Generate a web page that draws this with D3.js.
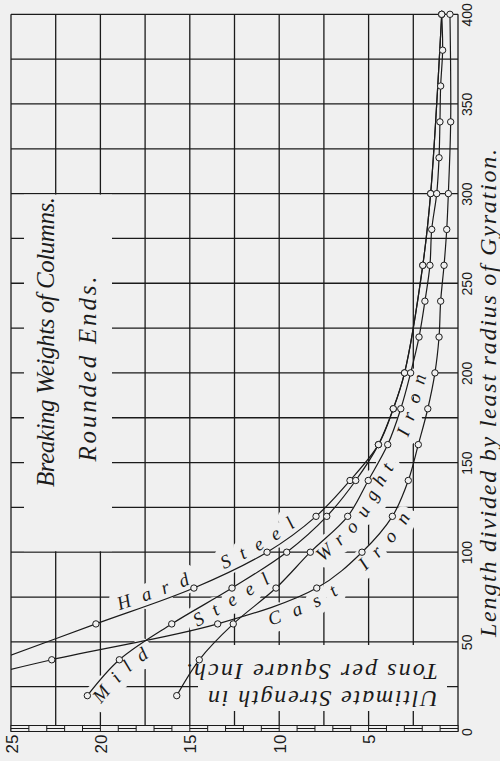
<!DOCTYPE html>
<meta charset="utf-8">
<script src="https://d3js.org/d3.v7.min.js"></script>
<style>
body { margin: 0; background: #f0f0f0; }
svg { display: block; }
</style>
<body>
<svg width="500" height="761"></svg>
<script>
  // length / least radius of gyration
  var lengthRatio = [20, 40, 60, 80, 100, 120, 140, 160, 180, 200, 220, 240, 260, 280, 300, 320, 340, 360, 380, 400];
  // ultimate strength, tons per square inch (null = no point plotted)
  var hardSteel   = [null, 25.7, 20.25, 14.77, 10.68, 7.94, 6.04, 4.45, 3.62, 2.99, null, null, 1.97, null, 1.53, null, null, null, null, 0.91];
  var mildSteel   = [20.73, 18.94, 16.01, 12.64, 9.58, 7.34, 5.72, 4.45, 3.62, 2.99, null, null, 1.97, null, 1.53, null, null, null, null, 0.91];
  var wroughtIron = [15.73, 14.47, 12.57, 10.18, 8.26, 6.17, 5.02, 3.93, 3.20, 2.65, 2.18, 1.85, 1.57, 1.47, 1.19, 1.06, 1.01, 0.97, 0.86, 0.91];
  var castIron    = [31.0, 22.72, 13.44, 7.90, 5.37, 3.67, 2.78, 2.22, 1.69, 1.29, 1.06, 0.97, 0.78, 0.63, 0.54, null, 0.41, null, null, 0.45];

  var strengthTicks = [25, 20, 15, 10, 5];
  var lengthTicks = [0, 50, 100, 150, 200, 250, 300, 350, 400];

  var bg = '#f0f0f0', ink = '#1b1b1b';
  var serif = '"Liberation Serif", "DejaVu Serif", serif';
  var sans = '"Liberation Sans", "DejaVu Sans", sans-serif';

  var svg = d3.select('svg');
  var x = d3.scaleLinear().domain([25, 0]).range([11, 458]);
  var y = d3.scaleLinear().domain([0, 400]).range([731.5, 14.3]);

  var series = [hardSteel, mildSteel, wroughtIron, castIron].map(function(vals){
    return lengthRatio.map(function(L, i){ return {L: L, s: vals[i]}; })
      .filter(function(d){ return d.s != null; });
  });

  svg.append('rect').attr('width', 500).attr('height', 761).attr('fill', bg);

  var line = d3.line()
    .x(function(d){ return x(d.s); })
    .y(function(d){ return y(d.L); })
    .curve(d3.curveCatmullRom.alpha(0.5));

  var defs = svg.append('defs');
  defs.append('clipPath').attr('id', 'plot').append('rect')
    .attr('x', x(25)).attr('y', y(400) - 5).attr('width', x(0) - x(25) + 5).attr('height', y(0) - y(400) + 5);
  var guides = defs.selectAll('path.guide').data(series).enter().append('path')
    .attr('d', line).nodes();

  /* ----------- curve labels, glyph by glyph ----------- */
  var labels = [
    {series: 0, text: 'Hard', from: 65, dy: -5, gap: 12},
    {series: 0, text: 'Steel', from: 88, dy: -5, gap: 12},
    {series: 1, text: 'Mild', from: 21, dy: 16, gap: 12},
    {series: 1, text: 'Steel', from: 66, dy: 16, gap: 12},
    {series: 3, text: 'Cast', from: 68, dy: 17, gap: 12},
    {series: 3, text: 'Iron', from: 96, dy: 16, gap: 11},
    {series: 2, text: 'Wrought', from: 101, dy: 16, gap: 8},
    {series: 2, text: 'Iron', from: 167, dy: 16, gap: 10}
  ];
  var labelSize = 19;

  function offsetAt(node, L){
    var target = y(L), lo = 0, hi = node.getTotalLength();
    for (var k = 0; k < 40; k++) {
      var mid = (lo + hi) / 2;
      if (node.getPointAtLength(mid).y > target) lo = mid; else hi = mid;
    }
    return lo;
  }

  var probe = svg.append('text').attr('font-family', serif).attr('font-style', 'italic')
    .attr('font-size', labelSize);
  labels.forEach(function(d){
    var node = guides[d.series], pos = offsetAt(node, d.from);
    d.xs = []; d.ys = []; d.rs = [];
    d.text.split('').forEach(function(c){
      probe.text(c);
      var w = probe.node().getComputedTextLength();
      var mid = pos + w / 2;
      var p = node.getPointAtLength(mid),
          a = node.getPointAtLength(mid - 1), b = node.getPointAtLength(mid + 1);
      var tx = b.x - a.x, ty = b.y - a.y, n = Math.hypot(tx, ty);
      tx /= n; ty /= n;
      d.xs.push((p.x - tx * w / 2 - ty * d.dy).toFixed(2));
      d.ys.push((p.y - ty * w / 2 + tx * d.dy).toFixed(2));
      d.rs.push((Math.atan2(ty, tx) * 180 / Math.PI).toFixed(2));
      pos += w + d.gap;
    });
  });
  probe.remove();

  function labelText(sel){
    return sel.attr('x', function(d){ return d.xs.join(' '); })
      .attr('y', function(d){ return d.ys.join(' '); })
      .attr('rotate', function(d){ return d.rs.join(' '); })
      .attr('font-family', serif).attr('font-style', 'italic').attr('font-size', labelSize)
      .text(function(d){ return d.text; });
  }

  // grid is cut away around the labels and the title boxes
  var mask = defs.append('mask').attr('id', 'gridMask').attr('maskUnits', 'userSpaceOnUse')
    .attr('x', 0).attr('y', 0).attr('width', 500).attr('height', 761);
  mask.append('rect').attr('width', 500).attr('height', 761).attr('fill', '#fff');
  mask.append('rect').attr('x', 24).attr('y', y(300) + 1).attr('width', 88)
    .attr('height', y(100) - y(300) - 2).attr('fill', '#000');
  mask.append('rect').attr('x', 198).attr('y', 645).attr('width', 249).attr('height', 66).attr('fill', '#000');
  labelText(mask.selectAll('text').data(labels).enter().append('text'))
    .attr('fill', '#000').attr('stroke', '#000').attr('stroke-width', 16).attr('stroke-linejoin', 'round');

  /* ----------- GRID ----------- */
  var grid = svg.append('g').attr('stroke', ink).attr('stroke-width', 1.3).attr('mask', 'url(#gridMask)');
  grid.selectAll('line.v').data(d3.range(0, 25.01, 2.5)).enter().append('line')
    .attr('x1', function(d){ return x(d); }).attr('x2', function(d){ return x(d); })
    .attr('y1', y(400)).attr('y2', y(0));
  grid.selectAll('line.h').data(d3.range(25, 401, 25)).enter().append('line')
    .attr('x1', x(25)).attr('x2', x(0))
    .attr('y1', function(d){ return y(d); }).attr('y2', function(d){ return y(d); });

  /* ----------- scale bar ----------- */
  var bar = svg.append('g').attr('stroke', ink).attr('stroke-width', 1);
  bar.append('rect').attr('x', x(25)).attr('y', 725.5).attr('width', x(0) - x(25)).attr('height', 6)
    .attr('fill', bg);
  bar.selectAll('line.mid').data(d3.range(0, 25, 2)).enter().append('line')
    .attr('x1', function(d){ return x(d); }).attr('x2', function(d){ return x(d + 1); })
    .attr('y1', 728.5).attr('y2', 728.5);
  bar.selectAll('line.sep').data(d3.range(1, 25)).enter().append('line')
    .attr('x1', function(d){ return x(d); }).attr('x2', function(d){ return x(d); })
    .attr('y1', 725.5).attr('y2', 731.5);

  /* ----------- axes ----------- */
  var right = svg.append('g').attr('transform', 'translate(' + x(0) + ',0)')
    .call(d3.axisRight(y).tickValues(lengthTicks).tickSize(0));
  right.select('.domain').remove();
  right.selectAll('text')
    .attr('x', 0).attr('dy', 0).attr('text-anchor', 'middle')
    .attr('transform', 'translate(14,0) rotate(-90)')
    .attr('font-family', sans).attr('font-size', 14).attr('fill', ink);

  var bottom = svg.append('g').attr('transform', 'translate(0,' + y(0) + ')')
    .call(d3.axisBottom(x).tickValues(strengthTicks).tickSize(0));
  bottom.select('.domain').remove();
  bottom.selectAll('text')
    .attr('y', 0).attr('x', 0).attr('dy', '0.36em').attr('text-anchor', 'end')
    .attr('transform', 'translate(0,3) rotate(-90)')
    .attr('font-family', sans).attr('font-size', 17).attr('fill', ink);

  /* ----------- curves ----------- */
  var plot = svg.append('g').attr('clip-path', 'url(#plot)');
  plot.selectAll('path.curve').data(series).enter().append('path')
    .attr('fill', 'none').attr('stroke', ink).attr('stroke-width', 1.2)
    .attr('d', line);
  plot.selectAll('g.pts').data(series).enter().append('g')
    .selectAll('circle').data(function(d){ return d; }).enter().append('circle')
    .attr('cx', function(d){ return x(d.s); }).attr('cy', function(d){ return y(d.L); })
    .attr('r', 3.2).attr('fill', bg).attr('stroke', ink).attr('stroke-width', 1);

  labelText(svg.append('g').selectAll('text').data(labels).enter().append('text'))
    .attr('fill', ink);

  /* ----------- titles ----------- */
  function title(t, tx, ty, rot, size, anchor, len){
    svg.append('text').attr('transform', 'translate(' + tx + ',' + ty + ') rotate(' + rot + ')')
      .attr('text-anchor', anchor).attr('font-family', serif).attr('font-style', 'italic')
      .attr('font-size', size).attr('textLength', len).attr('lengthAdjust', 'spacing')
      .attr('fill', ink).text(t);
  }
  title('Breaking Weights of Columns.', 54, 342, -90, 25, 'middle', 290);
  title('Rounded Ends.', 96, 369, -90, 25, 'middle', 185);
  title('Length divided by least radius of Gyration.', 496, 393, -90, 24, 'middle', 488);
  title('Ultimate Strength in', 438, 691, 180, 24, 'start', 230);
  title('Tons per Square Inch.', 438, 664, 180, 24, 'start', 252);
</script>
</body>
